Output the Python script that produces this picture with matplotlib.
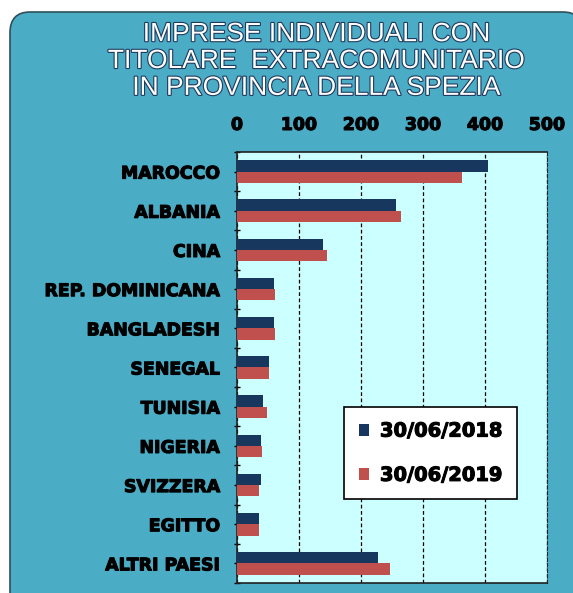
import numpy as np
import matplotlib.pyplot as plt
import matplotlib.patheffects as pe
from matplotlib.patches import FancyBboxPatch

# data
countries = ['MAROCCO', 'ALBANIA', 'CINA', 'REP. DOMINICANA', 'BANGLADESH',
             'SENEGAL', 'TUNISIA', 'NIGERIA', 'SVIZZERA', 'EGITTO', 'ALTRI PAESI']
v2018 = [405, 256, 138, 59, 59, 51, 42, 38, 38, 36, 227]
v2019 = [363, 265, 145, 61, 61, 51, 49, 40, 35, 35, 246]
series_labels = ['30/06/2018', '30/06/2019']

plt.rcParams['font.family'] = ['Liberation Sans', 'DejaVu Sans']
heavy = [pe.withStroke(linewidth=0.8, foreground='black')]

fig = plt.figure(figsize=(5.73, 5.93), dpi=100)
fig.patch.set_facecolor('white')

# rounded blue background panel
panel = FancyBboxPatch((10 / 573, -0.05), 1.0, 1.0 - 12 / 593 + 0.05,
                       boxstyle="round,pad=0,rounding_size=0.035",
                       transform=fig.transFigure, facecolor='#4BACC6',
                       edgecolor='#2f4f5a', linewidth=1.2, zorder=-5)
fig.patches.append(panel)

title = "IMPRESE INDIVIDUALI CON\nTITOLARE  EXTRACOMUNITARIO\nIN PROVINCIA DELLA SPEZIA"
fig.text(316 / 573, 1 - 61 / 593, title, ha='center', va='center',
         fontsize=19, color='white', linespacing=1.15,
         path_effects=[pe.withStroke(linewidth=1.6, foreground='#1f3a5f')])

ax = fig.add_axes([237 / 573, 1 - 583 / 593, 310 / 573, 431 / 593])
ax.set_facecolor('#CCFFFF')

y = np.arange(len(countries))
h = 0.29
ax.barh(y - h / 2, v2018, height=h, color='#17375E', label=series_labels[0], zorder=3)
ax.barh(y + h / 2, v2019, height=h, color='#C0504D', label=series_labels[1], zorder=3)

ax.set_xlim(0, 500)
ax.set_ylim(len(countries) - 0.5, -0.5)
ax.set_xticks(range(0, 501, 100))
ax.xaxis.tick_top()
ax.tick_params(axis='x', length=0, pad=13)
for lbl in ax.get_xticklabels():
    lbl.set_fontfamily('DejaVu Sans')
    lbl.set_fontweight('bold')
    lbl.set_fontsize(12.5)
    lbl.set_path_effects(heavy)

ax.set_yticks(y)
ax.set_yticklabels(countries)
for lbl in ax.get_yticklabels():
    lbl.set_fontfamily('DejaVu Sans')
    lbl.set_fontweight('bold')
    lbl.set_fontsize(12.5)
    lbl.set_path_effects(heavy)
ax.set_yticks(np.arange(-0.5, len(countries), 1), minor=True)
ax.tick_params(axis='y', which='both', length=4, direction='inout', pad=10, width=1)

ax.grid(axis='x', color='black', linestyle=(0, (3, 2)), linewidth=0.9, zorder=1)
for s in ['left', 'bottom', 'top']:
    ax.spines[s].set_color('#222222')
    ax.spines[s].set_linewidth(1.2)
ax.spines['right'].set_color('#222222')
ax.spines['right'].set_linestyle((0, (3, 2)))

leg = ax.legend(loc='upper left', bbox_to_anchor=(107 / 310, 1 - (407 - 152) / 431),
                frameon=True, fancybox=False, edgecolor='black', framealpha=1,
                prop={'family': 'DejaVu Sans', 'weight': 'bold', 'size': 14},
                handlelength=0.55, handleheight=0.55,
                labelspacing=1.3, borderpad=0.75, handletextpad=0.55, borderaxespad=0)
leg.get_frame().set_linewidth(1.2)
for t in leg.get_texts():
    t.set_path_effects(heavy)

plt.savefig('out.png', dpi=100)
